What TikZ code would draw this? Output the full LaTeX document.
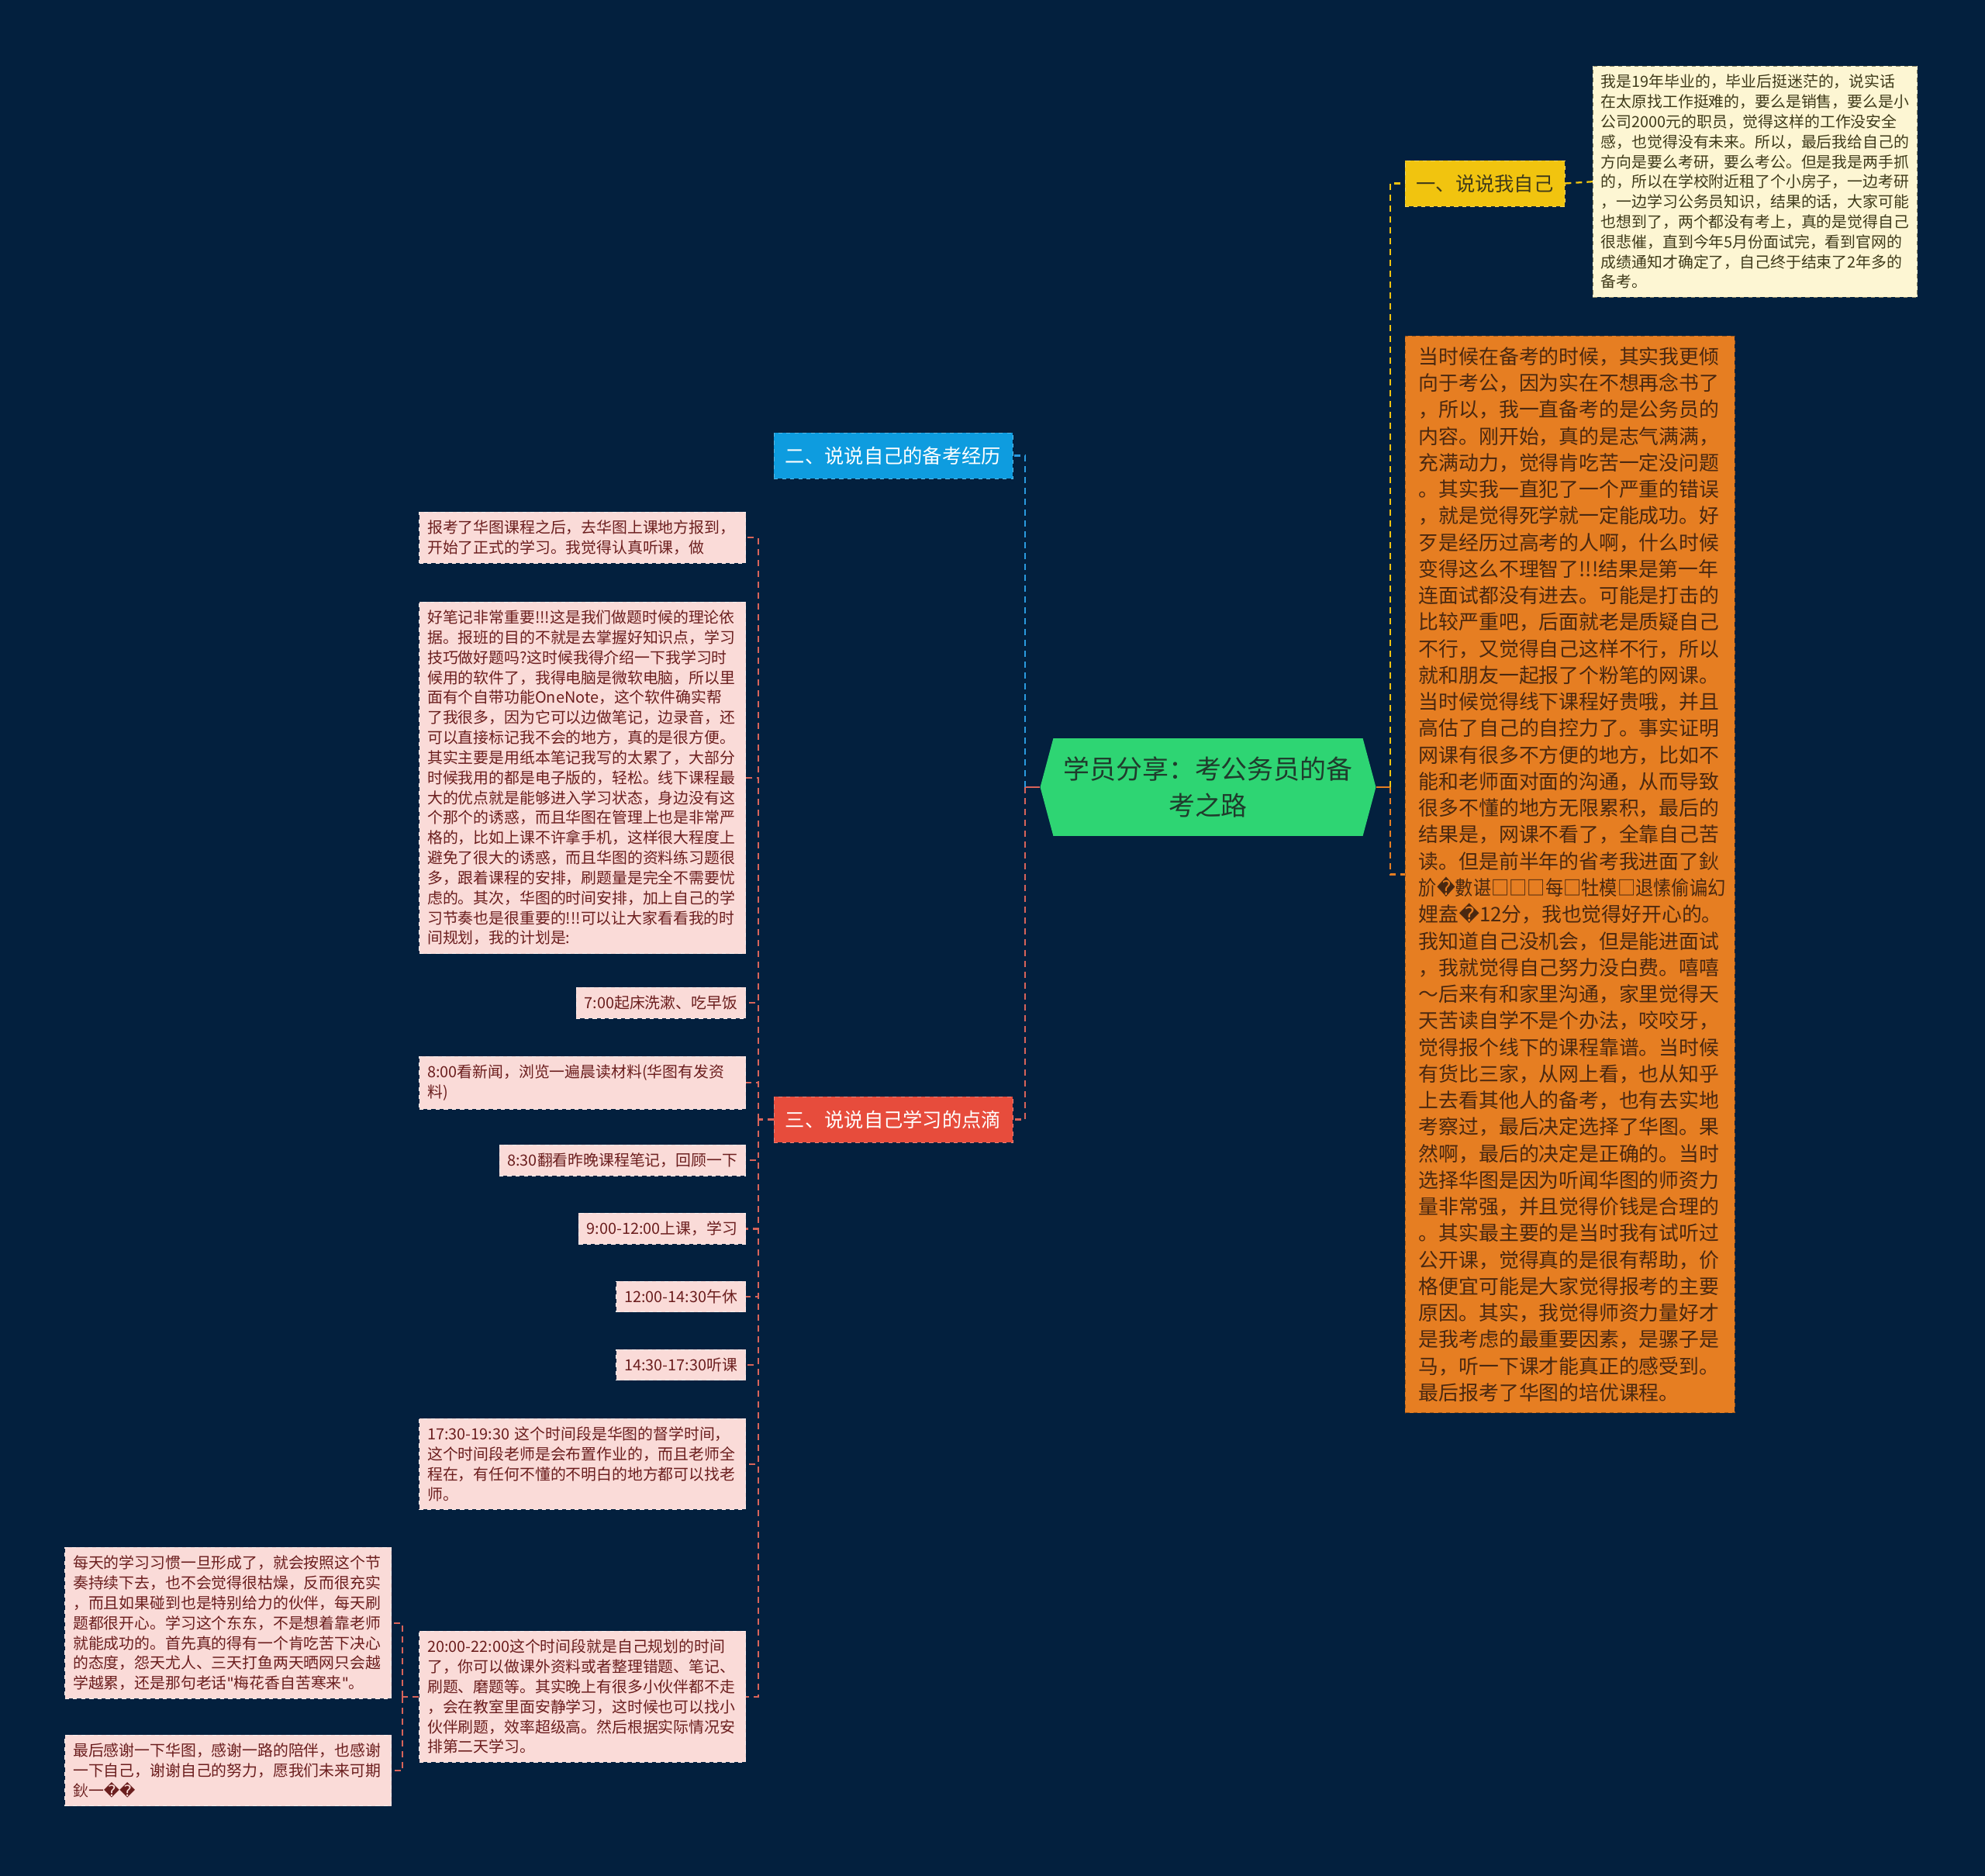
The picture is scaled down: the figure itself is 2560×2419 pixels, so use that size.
\documentclass[tikz,border=0pt]{standalone}
\usepackage{fontspec}
\usepackage{graphicx}
\setmainfont{Noto Sans CJK SC}
\newfontfamily\repfont{DejaVu Sans}
\newcommand{\badch}{{\repfont\char"FFFD}}
\newcommand{\dq}{{\repfont\char"22}}
\usepackage{xcolor}
\usetikzlibrary{shapes.symbols}
\definecolor{ShuNavy}{HTML}{03203E}
\definecolor{ShuGreen}{HTML}{2ED573}
\definecolor{ShuDark}{HTML}{1F3B2C}
\definecolor{ShuGold}{HTML}{F1C40F}
\definecolor{ShuBlue}{HTML}{0E9CDF}
\definecolor{ShuRed}{HTML}{E74C3C}
\definecolor{ShuOrange}{HTML}{E67E22}
\definecolor{ShuCream}{HTML}{FDF6D3}
\definecolor{ShuPink}{HTML}{FADBD8}
\definecolor{ShuInk}{HTML}{6B1E1E}
\definecolor{ShuOlive}{HTML}{3F3A1A}
\definecolor{ShuBrown}{HTML}{4A2810}
\definecolor{ShuLine}{HTML}{D9645A}
\definecolor{ShuSky}{HTML}{2A9BE0}
\tikzset{
  topic/.style={signal,signal to=west and east,signal pointer angle=150,
    fill=ShuGreen,text=ShuDark,align=center,inner sep=0pt,
    minimum width=8.66cm,minimum height=2.52cm,
    font=\fontsize{19.3pt}{26.9pt}\selectfont},
  branch/.style={fill=#1,draw=#1!70!white,dashed,minimum height=1.18cm,
    inner sep=0pt,font=\fontsize{14.4pt}{18pt}\selectfont},
  note/.style={fill=ShuPink,draw=white!55!ShuPink,dashed,text=ShuInk,align=left,
    inner xsep=6pt,inner ysep=6pt,font=\fontsize{11.3pt}{14.7pt}\selectfont},
  wide/.style={note,text width=8.0cm},
  memo/.style={note,fill=ShuCream,draw=ShuOlive!60!ShuCream,text=ShuOlive},
  story/.style={fill=ShuOrange,draw=ShuOrange!70!black,dashed,text=ShuBrown,align=left,
    inner xsep=0.35cm,inner ysep=8pt,text width=7.8cm,
    font=\fontsize{14.7pt}{19.5pt}\selectfont},
  link/.style={draw=#1,line width=1.3pt,dash pattern=on 0.16cm off 0.12cm},
  stub/.style={draw=#1,line width=1.6pt}
}

\begin{document}
\begin{tikzpicture}[x=0.02cm,y=-0.02cm]
  \fill[ShuNavy] (0,0) rectangle (2560,2419);
  \useasboundingbox (0,0) rectangle (2560,2419);

  \node[topic] (topic) at (1558,1015) {学员分享：考公务员的备\\考之路};
  \node[branch=ShuGold,text=ShuOlive,minimum width=4.12cm] (b1) at (1915,236.5) {一、说说我自己};
  \node[branch=ShuBlue,text=white,minimum width=6.16cm] (b2) at (1152,587.5) {二、说说自己的备考经历};
  \node[branch=ShuRed,text=white,minimum width=6.16cm] (b3) at (1152,1443.5) {三、说说自己学习的点滴};

  \node[memo,anchor=north west] (n1) at (2054,85) {我是19年毕业的，毕业后挺迷茫的，说实话\\在太原找工作挺难的，要么是销售，要么是小\\公司2000元的职员，觉得这样的工作没安全\\感，也觉得没有未来。所以，最后我给自己的\\方向是要么考研，要么考公。但是我是两手抓\\的，所以在学校附近租了个小房子，一边考研\\，一边学习公务员知识，结果的话，大家可能\\也想到了，两个都没有考上，真的是觉得自己\\很悲催，直到今年5月份面试完，看到官网的\\成绩通知才确定了，自己终于结束了2年多的\\备考。};

  \node[story,anchor=north west] (n2) at (1812,433) {当时候在备考的时候，其实我更倾\\向于考公，因为实在不想再念书了\\，所以，我一直备考的是公务员的\\内容。刚开始，真的是志气满满，\\充满动力，觉得肯吃苦一定没问题\\。其实我一直犯了一个严重的错误\\，就是觉得死学就一定能成功。好\\歹是经历过高考的人啊，什么时候\\变得这么不理智了!!!结果是第一年\\连面试都没有进去。可能是打击的\\比较严重吧，后面就老是质疑自己\\不行，又觉得自己这样不行，所以\\就和朋友一起报了个粉笔的网课。\\当时候觉得线下课程好贵哦，并且\\高估了自己的自控力了。事实证明\\网课有很多不方便的地方，比如不\\能和老师面对面的沟通，从而导致\\很多不懂的地方无限累积，最后的\\结果是，网课不看了，全靠自己苦\\读。但是前半年的省考我进面了鈥\\\scalebox{0.9}[1]{斺\badch 數谌□□□每□牡模□退愫偷谝幻}\\娌盍\badch 12分，我也觉得好开心的。\\我知道自己没机会，但是能进面试\\，我就觉得自己努力没白费。嘻嘻\\～后来有和家里沟通，家里觉得天\\天苦读自学不是个办法，咬咬牙，\\觉得报个线下的课程靠谱。当时候\\有货比三家，从网上看，也从知乎\\上去看其他人的备考，也有去实地\\考察过，最后决定选择了华图。果\\然啊，最后的决定是正确的。当时\\选择华图是因为听闻华图的师资力\\量非常强，并且觉得价钱是合理的\\。其实最主要的是当时我有试听过\\公开课，觉得真的是很有帮助，价\\格便宜可能是大家觉得报考的主要\\原因。其实，我觉得师资力量好才\\是我考虑的最重要因素，是骡子是\\马，听一下课才能真正的感受到。\\最后报考了华图的培优课程。};

  \node[wide,anchor=north east] (s1) at (962,660) {报考了华图课程之后，去华图上课地方报到，\\开始了正式的学习。我觉得认真听课，做};
  \node[wide,anchor=north east] (s2) at (962,776) {好笔记非常重要!!!这是我们做题时候的理论依\\据。报班的目的不就是去掌握好知识点，学习\\技巧做好题吗?这时候我得介绍一下我学习时\\候用的软件了，我得电脑是微软电脑，所以里\\面有个自带功能OneNote，这个软件确实帮\\了我很多，因为它可以边做笔记，边录音，还\\可以直接标记我不会的地方，真的是很方便。\\其实主要是用纸本笔记我写的太累了，大部分\\时候我用的都是电子版的，轻松。线下课程最\\大的优点就是能够进入学习状态，身边没有这\\个那个的诱惑，而且华图在管理上也是非常严\\格的，比如上课不许拿手机，这样很大程度上\\避免了很大的诱惑，而且华图的资料练习题很\\多，跟着课程的安排，刷题量是完全不需要忧\\虑的。其次，华图的时间安排，加上自己的学\\习节奏也是很重要的!!!可以让大家看看我的时\\间规划，我的计划是:};
  \node[note,anchor=north east] (s3) at (962,1273) {7:00起床洗漱、吃早饭};
  \node[wide,anchor=north east] (s4) at (962,1362) {8:00看新闻，浏览一遍晨读材料(华图有发资\\料)};
  \node[note,anchor=north east] (s5) at (962,1476) {8:30翻看昨晚课程笔记，回顾一下};
  \node[note,anchor=north east] (s6) at (962,1564) {9:00-12:00上课，学习};
  \node[note,anchor=north east] (s7) at (962,1652) {12:00-14:30午休};
  \node[note,anchor=north east] (s8) at (962,1740) {14:30-17:30听课};
  \node[wide,anchor=north east] (s9) at (962,1829) {17:30-19:30 这个时间段是华图的督学时间，\\这个时间段老师是会布置作业的，而且老师全\\程在，有任何不懂的不明白的地方都可以找老\\师。};
  \node[wide,anchor=north east] (s10) at (962,2103) {20:00-22:00这个时间段就是自己规划的时间\\了，你可以做课外资料或者整理错题、笔记、\\刷题、磨题等。其实晚上有很多小伙伴都不走\\，会在教室里面安静学习，这时候也可以找小\\伙伴刷题，效率超级高。然后根据实际情况安\\排第二天学习。};
  \node[wide,anchor=north east] (d1) at (505,1995) {每天的学习习惯一旦形成了，就会按照这个节\\奏持续下去，也不会觉得很枯燥，反而很充实\\，而且如果碰到也是特别给力的伙伴，每天刷\\题都很开心。学习这个东东，不是想着靠老师\\就能成功的。首先真的得有一个肯吃苦下决心\\的态度，怨天尤人、三天打鱼两天晒网只会越\\学越累，还是那句老话\dq 梅花香自苦寒来\dq 。};
  \node[wide,anchor=north east] (d2) at (505,2237) {最后感谢一下华图，感谢一路的陪伴，也感谢\\一下自己，谢谢自己的努力，愿我们未来可期\\鈥一\badch\badch};

  \draw[stub=ShuLine] (topic.west) -- ++(-19,0) coordinate (lj);
  \draw[stub=ShuOrange] (topic.east) -- ++(18,0) coordinate (rj);
  \draw[link=ShuSky] (lj) |- (b2.east);
  \draw[link=ShuLine] (lj) |- (b3.east);
  \draw[link=ShuGold] (rj) |- (b1.west);
  \draw[link=ShuOrange] (rj) |- (n2.west);
  \draw[link=ShuGold] (b1.east) -- (n1.west);
  \draw[link=ShuLine] (b3.west) -- ++(-20,0) coordinate (sj);
  \foreach \i in {1,...,10}
    \draw[link=ShuLine] (sj) |- (s\i.east);
  \draw[link=ShuLine] (s10.west) -- ++(-21,0) coordinate (tj);
  \draw[link=ShuLine] (tj) |- (d1.east);
  \draw[link=ShuLine] (tj) |- (d2.east);
\end{tikzpicture}
\end{document}
